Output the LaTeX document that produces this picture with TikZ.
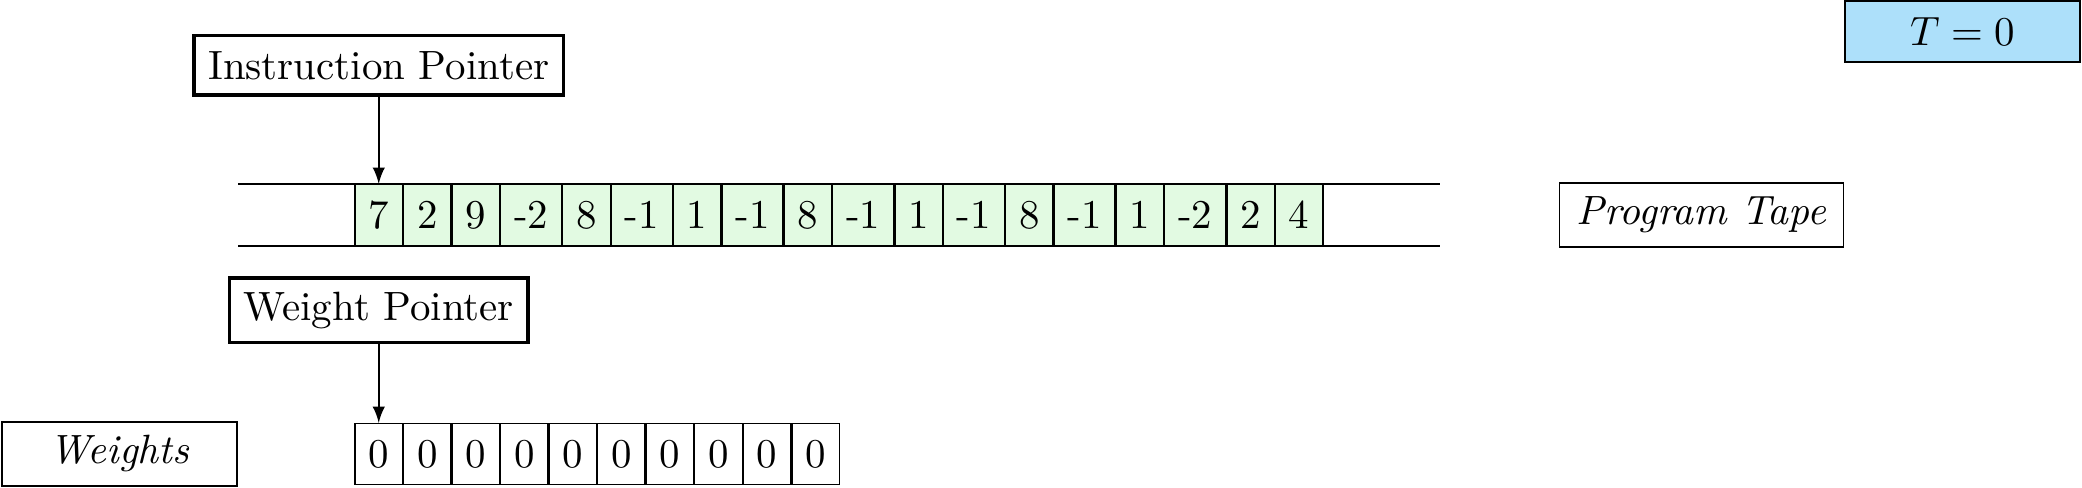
\documentclass[tikz,border=0pt]{standalone}
\usepackage{amsmath}
\usepackage{tikz}
\usetikzlibrary{positioning}
\definecolor{tapegreen}{RGB}{226,250,226}
\definecolor{clockblue}{RGB}{173,224,250}

\begin{document}
\begin{tikzpicture}[
  cell/.style={draw, fill=tapegreen, minimum height=15pt, outer sep=0.1pt},
  wcell/.style={draw, minimum height=15pt, outer sep=0.1pt},
  tag/.style={draw, inner xsep=4.2pt, minimum width=2.02cm, minimum height=15pt},
  pointer/.style={draw, thick, inner xsep=3.5pt, minimum height=14.5pt}]
\useasboundingbox (0,0) rectangle (17.89,4.193);

\node[cell, anchor=west] (p1) at (3.046,2.346) {7};
\node[cell, right=0pt of p1] (p2) {2};
\node[cell, right=0pt of p2] (p3) {9};
\node[cell, right=0pt of p3] (p4) {-2};
\node[cell, right=0pt of p4] (p5) {8};
\node[cell, right=0pt of p5] (p6) {-1};
\node[cell, right=0pt of p6] (p7) {1};
\node[cell, right=0pt of p7] (p8) {-1};
\node[cell, right=0pt of p8] (p9) {8};
\node[cell, right=0pt of p9] (p10) {-1};
\node[cell, right=0pt of p10] (p11) {1};
\node[cell, right=0pt of p11] (p12) {-1};
\node[cell, right=0pt of p12] (p13) {8};
\node[cell, right=0pt of p13] (p14) {-1};
\node[cell, right=0pt of p14] (p15) {1};
\node[cell, right=0pt of p15] (p16) {-2};
\node[cell, right=0pt of p16] (p17) {2};
\node[cell, right=0pt of p17] (p18) {4};

\coordinate[left=1cm of p1] (tapeL);
\coordinate[right=1cm of p18] (tapeR);
\draw (tapeL |- p1.north) -- (tapeR |- p1.north);
\draw (tapeL |- p1.south) -- (tapeR |- p1.south);

\node[tag, right=1.02cm of tapeR] (ptag) {\textit{Program Tape}};
\node[tag, fill=clockblue, anchor=north west] (clock) at (15.845,4.193) {$T=0$};

\node[pointer, above=0.75cm of p1] (ip) {Instruction Pointer};
\draw[-latex] (ip) -- (p1);

\node[wcell, anchor=west] (w1) at (3.046,0.292) {0};
\node[wcell, right=0pt of w1] (w2) {0};
\node[wcell, right=0pt of w2] (w3) {0};
\node[wcell, right=0pt of w3] (w4) {0};
\node[wcell, right=0pt of w4] (w5) {0};
\node[wcell, right=0pt of w5] (w6) {0};
\node[wcell, right=0pt of w6] (w7) {0};
\node[wcell, right=0pt of w7] (w8) {0};
\node[wcell, right=0pt of w8] (w9) {0};
\node[wcell, right=0pt of w9] (w10) {0};
\node[tag, left=1cm of w1] (wtag) {\textit{Weights}};

\node[pointer, above=0.68cm of w1] (wp) {Weight Pointer};
\draw[-latex] (wp) -- (w1);
\end{tikzpicture}
\end{document}
